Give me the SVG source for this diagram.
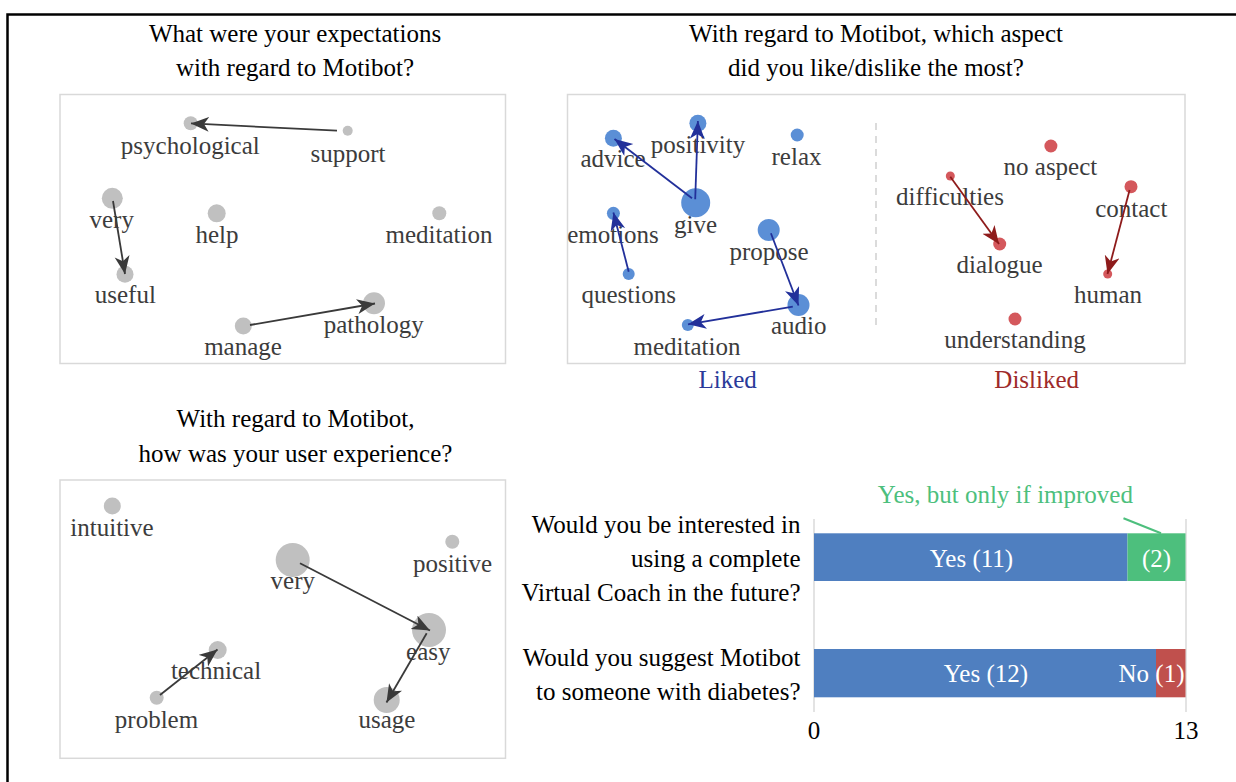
<svg xmlns="http://www.w3.org/2000/svg" width="1236" height="782" viewBox="0 0 1236 782">
<defs>
<style>
text{font-family:"Liberation Serif","Times New Roman",serif;font-size:25px;}
.t{fill:#000;text-anchor:middle;}
.l{fill:#3c3c3c;text-anchor:middle;}
.q{fill:#000;text-anchor:end;}
.w{fill:#fff;text-anchor:middle;}
.panel{fill:#fff;stroke:#d9d9d9;stroke-width:1.5;}
.g{fill:#c0c0c0;}
.b{fill:#5b8fd6;}
.r{fill:#d4585c;}
.ag{stroke:#3a3a3a;stroke-width:1.8;fill:none;marker-end:url(#mg);}
.ab{stroke:#22309a;stroke-width:1.8;fill:none;marker-end:url(#mb);}
.ar{stroke:#8e1b1b;stroke-width:1.8;fill:none;marker-end:url(#mr);}
.axis{stroke:#d0d0d0;stroke-width:1.2;}
</style>
<marker id="mg" markerUnits="userSpaceOnUse" markerWidth="20" markerHeight="16" refX="18" refY="7.5" orient="auto"><path d="M0,0 L18,7.5 L0,15 L5,7.5 z" fill="#3a3a3a"/></marker>
<marker id="mb" markerUnits="userSpaceOnUse" markerWidth="20" markerHeight="16" refX="18" refY="7.5" orient="auto"><path d="M0,0 L18,7.5 L0,15 L5,7.5 z" fill="#22309a"/></marker>
<marker id="mr" markerUnits="userSpaceOnUse" markerWidth="20" markerHeight="16" refX="18" refY="7.5" orient="auto"><path d="M0,0 L18,7.5 L0,15 L5,7.5 z" fill="#8e1b1b"/></marker>
</defs>
<rect width="1236" height="782" fill="#fff"/>
<path d="M7.5,782 V14.5 H1236" fill="none" stroke="#000" stroke-width="2.5"/>

<!-- Top-left panel -->
<g id="panel-expectations">
<text class="t" x="295" y="42">What were your expectations</text>
<text class="t" x="295" y="76">with regard to Motibot?</text>
<rect class="panel" x="60" y="94.5" width="445.5" height="269"/>
</g>
<g id="tl-psychological"><circle class="g" cx="190.7" cy="123.3" r="7"/><text class="l" x="190.3" y="154">psychological</text></g>
<g id="tl-support"><circle class="g" cx="347.7" cy="130.7" r="5"/><text class="l" x="348" y="161.7">support</text></g>
<g id="tl-very"><circle class="g" cx="112.3" cy="198.3" r="10.5"/><text class="l" x="111.7" y="227.7">very</text></g>
<g id="tl-help"><circle class="g" cx="216.7" cy="213.3" r="9"/><text class="l" x="217" y="243">help</text></g>
<g id="tl-meditation"><circle class="g" cx="439.3" cy="213.3" r="7"/><text class="l" x="439" y="243">meditation</text></g>
<g id="tl-useful"><circle class="g" cx="125" cy="274.3" r="8.5"/><text class="l" x="125.3" y="302.7">useful</text></g>
<g id="tl-pathology"><circle class="g" cx="374" cy="303.3" r="11"/><text class="l" x="373.7" y="333">pathology</text></g>
<g id="tl-manage"><circle class="g" cx="243.3" cy="326" r="8.5"/><text class="l" x="243" y="355">manage</text></g>

<!-- Top-right panel -->
<g id="panel-likes">
<text class="t" x="876" y="42">With regard to Motibot, which aspect</text>
<text class="t" x="876" y="76">did you like/dislike the most?</text>
<rect class="panel" x="567.5" y="94.5" width="617.5" height="269"/>
<line x1="876" y1="123" x2="876" y2="326" stroke="#c8c8c8" stroke-width="1.3" stroke-dasharray="7,6"/>
<text x="727.6" y="388" text-anchor="middle" fill="#2a3a99">Liked</text>
<text x="1036.7" y="388" text-anchor="middle" fill="#9e2a2a">Disliked</text>
</g>
<g id="tr-advice"><circle class="b" cx="613.4" cy="138.3" r="8.5"/><text class="l" x="613" y="166.7">advice</text></g>
<g id="tr-positivity"><circle class="b" cx="697.9" cy="123.3" r="8.5"/><text class="l" x="698" y="153.3">positivity</text></g>
<g id="tr-relax"><circle class="b" cx="797.2" cy="135" r="6.5"/><text class="l" x="796.5" y="165">relax</text></g>
<g id="tr-give"><circle class="b" cx="695.7" cy="202.7" r="14.5"/><text class="l" x="695.5" y="233">give</text></g>
<g id="tr-emotions"><circle class="b" cx="613.4" cy="213.3" r="6.5"/><text class="l" x="613" y="243.3">emotions</text></g>
<g id="tr-propose"><circle class="b" cx="768.7" cy="230" r="11"/><text class="l" x="769" y="260">propose</text></g>
<g id="tr-questions"><circle class="b" cx="628.7" cy="274" r="6"/><text class="l" x="628.7" y="303.3">questions</text></g>
<g id="tr-audio"><circle class="b" cx="798.5" cy="305" r="11"/><text class="l" x="798.8" y="334.3">audio</text></g>
<g id="tr-meditation"><circle class="b" cx="687.8" cy="325" r="6"/><text class="l" x="687" y="355">meditation</text></g>
<g id="tr-noaspect"><circle class="r" cx="1050.9" cy="146" r="6.5"/><text class="l" x="1050.4" y="175">no aspect</text></g>
<g id="tr-difficulties"><circle class="r" cx="950.3" cy="176" r="4.5"/><text class="l" x="950" y="205">difficulties</text></g>
<g id="tr-contact"><circle class="r" cx="1131" cy="186.7" r="6.5"/><text class="l" x="1131.3" y="216.7">contact</text></g>
<g id="tr-dialogue"><circle class="r" cx="999.7" cy="244" r="6.5"/><text class="l" x="999.6" y="272.7">dialogue</text></g>
<g id="tr-human"><circle class="r" cx="1107.7" cy="274" r="4.5"/><text class="l" x="1108" y="303.3">human</text></g>
<g id="tr-understanding"><circle class="r" cx="1015" cy="319" r="6.5"/><text class="l" x="1015" y="348.3">understanding</text></g>

<!-- Bottom-left panel -->
<g id="panel-experience">
<text class="t" x="295.5" y="427">With regard to Motibot,</text>
<text class="t" x="295.5" y="461.7">how was your user experience?</text>
<rect class="panel" x="60" y="480" width="445.5" height="278.3"/>
</g>
<g id="bl-intuitive"><circle class="g" cx="112.3" cy="506" r="8.5"/><text class="l" x="112" y="536">intuitive</text></g>
<g id="bl-very"><circle class="g" cx="292.7" cy="560" r="17"/><text class="l" x="292.8" y="589.3">very</text></g>
<g id="bl-positive"><circle class="g" cx="452.3" cy="541.7" r="7"/><text class="l" x="452.5" y="571.7">positive</text></g>
<g id="bl-easy"><circle class="g" cx="429" cy="630" r="17"/><text class="l" x="428.3" y="660">easy</text></g>
<g id="bl-technical"><circle class="g" cx="217.7" cy="650" r="9"/><text class="l" x="216" y="679.3">technical</text></g>
<g id="bl-problem"><circle class="g" cx="156.7" cy="697.7" r="7"/><text class="l" x="156.5" y="728.3">problem</text></g>
<g id="bl-usage"><circle class="g" cx="386.7" cy="700" r="13"/><text class="l" x="387" y="728.3">usage</text></g>

<!-- Bar chart -->
<g id="bar-chart">
<line class="axis" x1="814" y1="519" x2="814" y2="712"/>
<line class="axis" x1="1186" y1="519" x2="1186" y2="712"/>
<text x="814" y="738.5" text-anchor="middle" fill="#000">0</text>
<text x="1186" y="738.5" text-anchor="middle" fill="#000">13</text>
</g>
<g id="bar-interested">
<text class="q" x="800.5" y="532.7">Would you be interested in</text>
<text class="q" x="800.5" y="566.7">using a complete</text>
<text class="q" x="800.5" y="600.7">Virtual Coach in the future?</text>
<rect x="814" y="533.3" width="313.5" height="47.7" fill="#4f7fc0"/>
<rect x="1127.5" y="533.3" width="58" height="47.7" fill="#4dbf7d"/>
<text class="w" x="971.5" y="566.7">Yes (11)</text>
<text class="w" x="1156.5" y="566.7">(2)</text>
<text x="1005.4" y="503.3" text-anchor="middle" fill="#4dbf7d">Yes, but only if improved</text>
</g>
<g id="bar-suggest">
<text class="q" x="800.5" y="666">Would you suggest Motibot</text>
<text class="q" x="800.5" y="700">to someone with diabetes?</text>
<rect x="814" y="649" width="342" height="48.3" fill="#4f7fc0"/>
<rect x="1156" y="649" width="29.5" height="48.3" fill="#c0504d"/>
<text class="w" x="985.9" y="681.7">Yes (12)</text>
<text x="1184.5" y="681.7" text-anchor="end" fill="#fff">No (1)</text>
</g>

<!-- Connectors -->
<g id="connectors">
<path class="ag" d="M337,130.7 L191,123.4"/>
<path class="ag" d="M113,201 L125,274"/>
<path class="ag" d="M250,325 L375,303.5"/>
<path class="ab" d="M692,198.3 L614.5,139"/>
<path class="ab" d="M695.2,199.3 L697.9,121"/>
<path class="ab" d="M628.7,271.7 L613.4,212.5"/>
<path class="ab" d="M770.9,233.3 L798.5,305.5"/>
<path class="ab" d="M792.8,306.7 L688,324.3"/>
<path class="ar" d="M950.3,176.7 L999,244"/>
<path class="ar" d="M1129.6,190 L1107.5,274"/>
<path class="ag" d="M300,563.3 L430,630.5"/>
<path class="ag" d="M426.7,633.3 L386.5,702.5"/>
<path class="ag" d="M160,695 L217.5,649.5"/>
<path d="M1123.5,518.3 L1161,533.3" stroke="#4dbf7d" stroke-width="2" fill="none"/>
</g>
</svg>
